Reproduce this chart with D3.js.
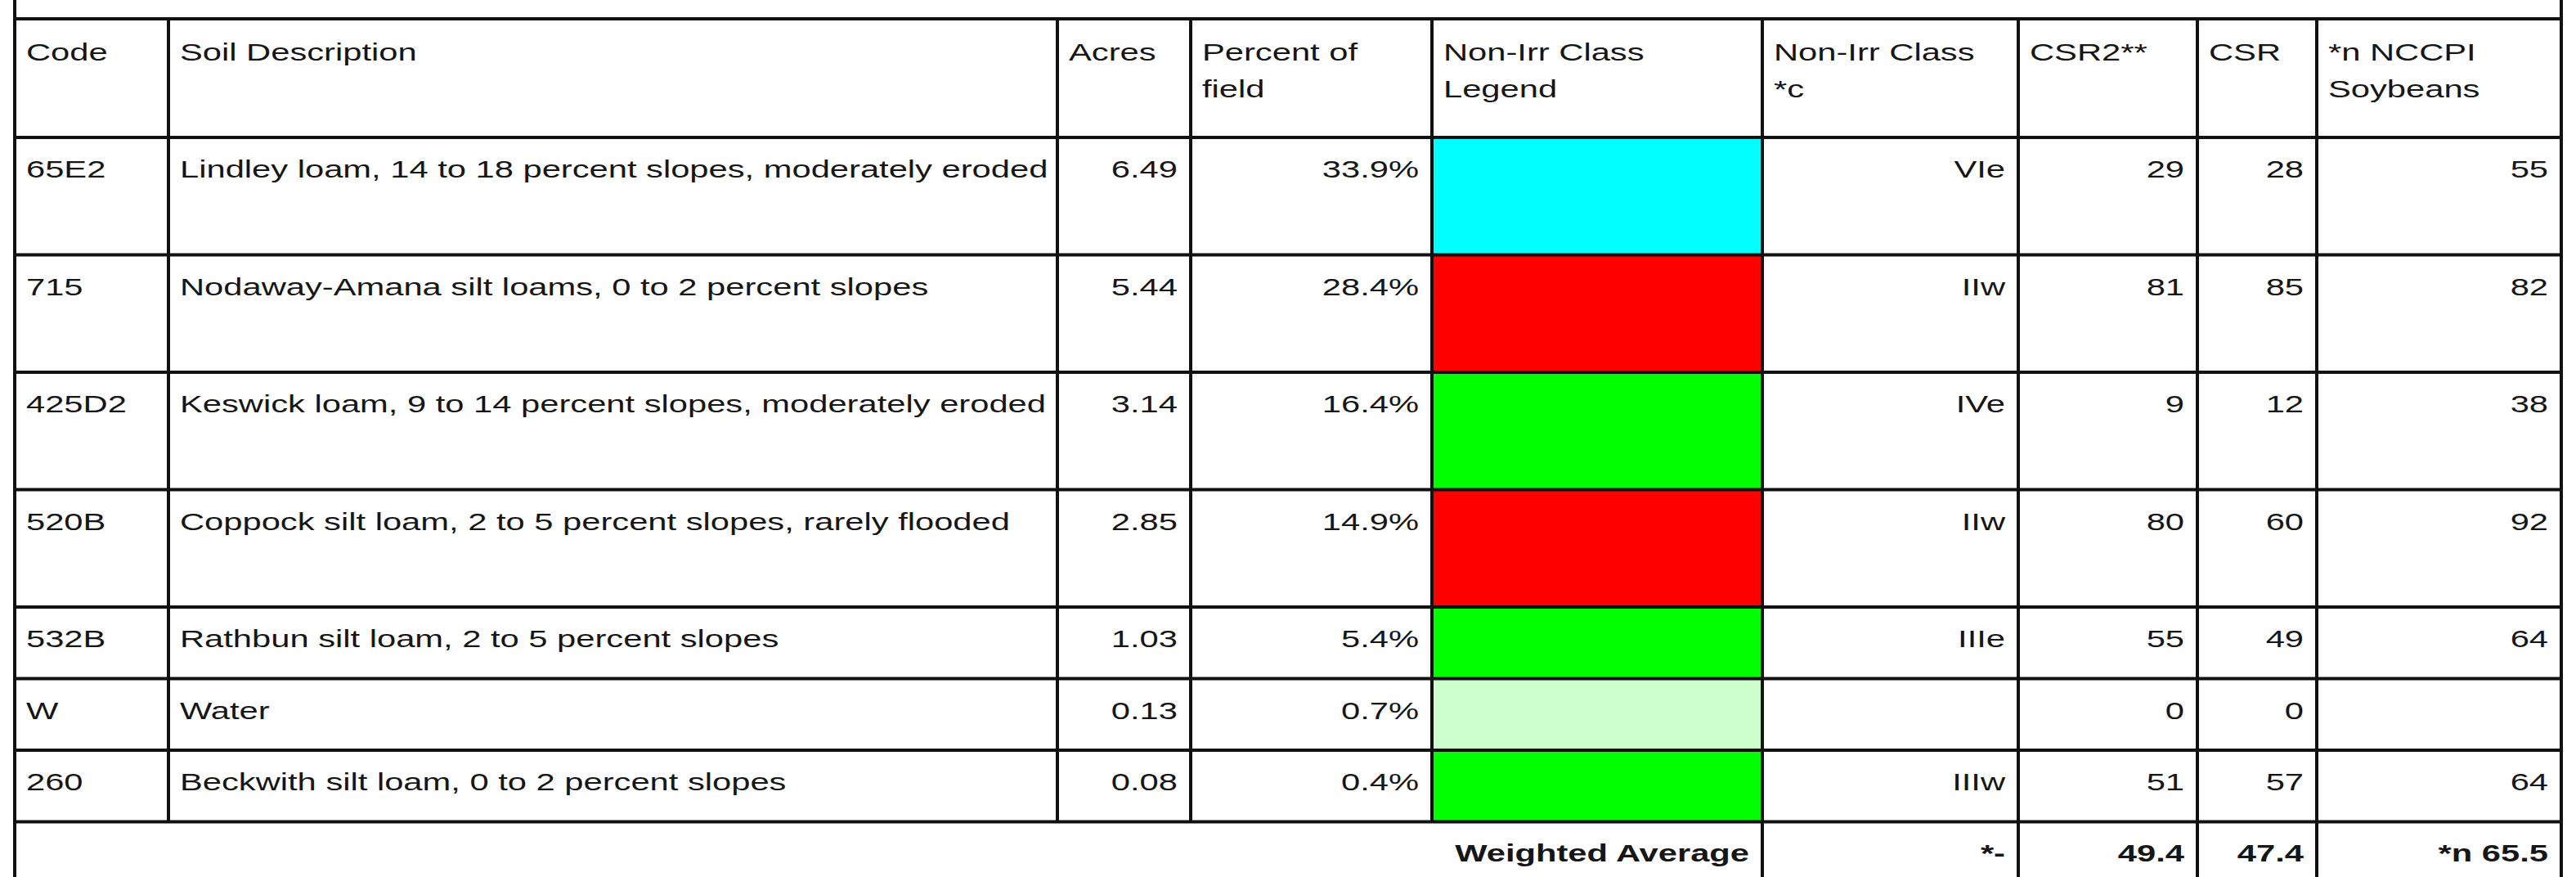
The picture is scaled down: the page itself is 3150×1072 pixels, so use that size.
<!DOCTYPE html>
<html>
<head>
<meta charset="utf-8">
<script src="https://cdn.jsdelivr.net/npm/d3@7/dist/d3.min.js"></script>
<style>
  body { margin: 0; background: #fff; }
  svg { display: block; }
</style>
</head>
<body>
<div id="wrapper"></div>
<script>
// table data
var codes = ["65E2", "715", "425D2", "520B", "532B", "W", "260"];
var descriptions = [
  "Lindley loam, 14 to 18 percent slopes, moderately eroded",
  "Nodaway-Amana silt loams, 0 to 2 percent slopes",
  "Keswick loam, 9 to 14 percent slopes, moderately eroded",
  "Coppock silt loam, 2 to 5 percent slopes, rarely flooded",
  "Rathbun silt loam, 2 to 5 percent slopes",
  "Water",
  "Beckwith silt loam, 0 to 2 percent slopes"
];
var acres = ["6.49", "5.44", "3.14", "2.85", "1.03", "0.13", "0.08"];
var percentOfField = ["33.9%", "28.4%", "16.4%", "14.9%", "5.4%", "0.7%", "0.4%"];
var legendColors = ["#00ffff", "#ff0000", "#00ff00", "#ff0000", "#00ff00", "#ccffcc", "#00ff00"];
var nonIrrClass = ["VIe", "IIw", "IVe", "IIw", "IIIe", "", "IIIw"];
var csr2 = ["29", "81", "9", "80", "55", "0", "51"];
var csr = ["28", "85", "12", "60", "49", "0", "57"];
var nccpi = ["55", "82", "38", "92", "64", "", "64"];

var headers = [
  ["Code"], ["Soil Description"], ["Acres"], ["Percent of", "field"],
  ["Non-Irr Class", "Legend"], ["Non-Irr Class", "*c"], ["CSR2**"], ["CSR"],
  ["*n NCCPI", "Soybeans"]
];
var weightedLabel = "Weighted Average";
var weightedValues = ["*-", "49.4", "47.4", "*n 65.5"];

// layout
var width = 3150, height = 1072;
var colEdges = [18, 206, 1293, 1456, 1751, 2155, 2468, 2687, 2833, 3132];
var tableTop = 23;
var headerHeight = 145;
var rowHeights = [143.5, 143.5, 143.5, 143.5, 87.5, 87.5, 87.5];
var fontSize = 30;
var stretch = 1.39;   // the source text is wider than it is tall
var pad = 14;
var lineColor = "#111";
var textColor = "#161616";

var svg = d3.select("#wrapper").append("svg")
  .attr("width", width)
  .attr("height", height);

svg.append("rect").attr("width", width).attr("height", height).attr("fill", "#fff");

// row boundaries from the heights
var rowTops = [tableTop + headerHeight];
rowHeights.forEach(function (h, i) { rowTops.push(rowTops[i] + h); });
var waTop = rowTops[rowTops.length - 1];

var y = d3.scaleOrdinal().domain(d3.range(rowHeights.length)).range(rowTops);

function addText(x, yy, str, anchor, bold) {
  svg.append("text")
    .attr("transform", "translate(" + x + "," + yy + ") scale(" + stretch + ",1)")
    .attr("text-anchor", anchor)
    .style("font-family", "'Liberation Sans', Arial, sans-serif")
    .style("font-size", fontSize + "px")
    .style("font-weight", bold ? "bold" : "normal")
    .style("fill", textColor)
    .text(str);
}

// legend colour cells
svg.selectAll("rect.legend")
  .data(legendColors)
  .enter()
  .append("rect")
  .attr("class", "legend")
  .attr("x", colEdges[4])
  .attr("y", function (d, i) { return y(i); })
  .attr("width", colEdges[5] - colEdges[4])
  .attr("height", function (d, i) { return rowHeights[i]; })
  .attr("fill", function (d) { return d; });

// header text
headers.forEach(function (lines, c) {
  lines.forEach(function (t, k) {
    addText(colEdges[c] + pad, tableTop + 51 + k * 45, t, "start", false);
  });
});

// body text
var rightCols = [
  { col: 2, vals: acres },
  { col: 3, vals: percentOfField },
  { col: 5, vals: nonIrrClass },
  { col: 6, vals: csr2 },
  { col: 7, vals: csr },
  { col: 8, vals: nccpi }
];
codes.forEach(function (code, i) {
  var base = y(i) + 49;
  addText(colEdges[0] + pad, base, code, "start", false);
  addText(colEdges[1] + pad, base, descriptions[i], "start", false);
  rightCols.forEach(function (rc) {
    if (rc.vals[i] !== "") addText(colEdges[rc.col + 1] - 16, base, rc.vals[i], "end", false);
  });
});

// weighted average row
addText(colEdges[5] - 16, waTop + 48, weightedLabel, "end", true);
weightedValues.forEach(function (v, k) {
  addText(colEdges[6 + k] - 16, waTop + 48, v, "end", true);
});

// grid lines
var g = svg.append("g").attr("stroke", lineColor).attr("stroke-width", 4);
// outer sides, running past the top and bottom edges
[colEdges[0], colEdges[colEdges.length - 1]].forEach(function (x) {
  g.append("line").attr("x1", x).attr("x2", x).attr("y1", -10).attr("y2", height + 10);
});
// horizontal lines
[tableTop].concat(rowTops).forEach(function (yy) {
  g.append("line").attr("x1", colEdges[0]).attr("x2", colEdges[colEdges.length - 1])
    .attr("y1", yy).attr("y2", yy);
});
// inner verticals
colEdges.slice(1, -1).forEach(function (x, k) {
  var c = k + 1;
  g.append("line").attr("x1", x).attr("x2", x)
    .attr("y1", tableTop).attr("y2", c >= 5 ? height + 10 : waTop);
});
</script>
</body>
</html>
